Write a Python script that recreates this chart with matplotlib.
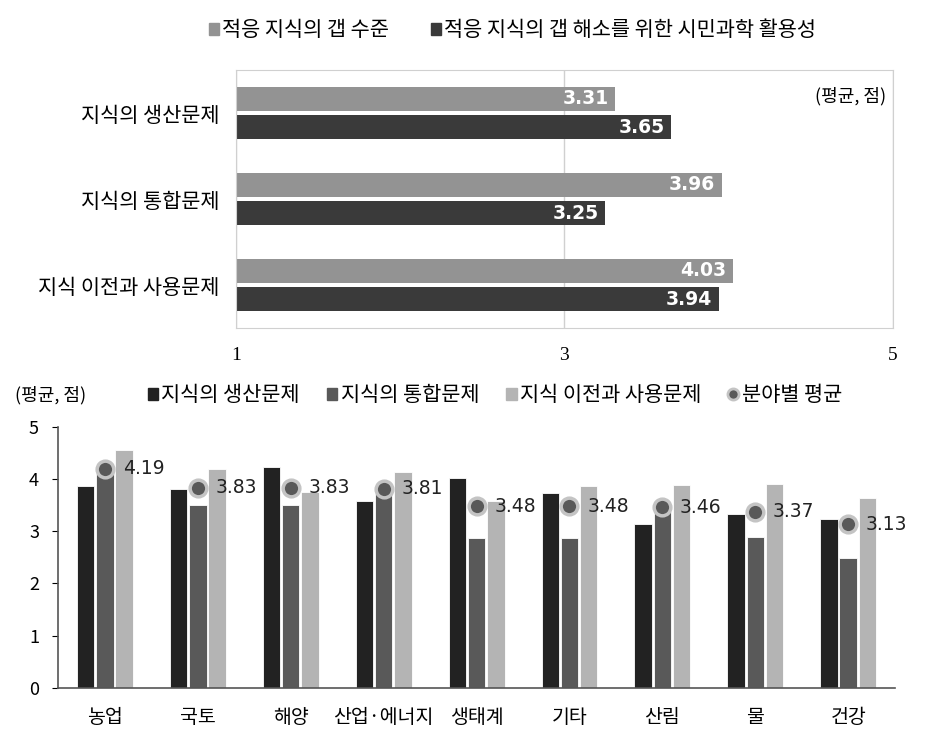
import matplotlib.pyplot as plt
from matplotlib.patches import Patch
from matplotlib.lines import Line2D
import numpy as np

plt.rcParams['font.family'] = ['Noto Sans CJK KR', 'DejaVu Sans']

# 상단: 지식 문제별 평균
문제 = ["지식의 생산문제", "지식의 통합문제", "지식 이전과 사용문제"]
갭_수준 = [3.31, 3.96, 4.03]
시민과학_활용성 = [3.65, 3.25, 3.94]
상단_범례 = ["적응 지식의 갭 수준", "적응 지식의 갭 해소를 위한 시민과학 활용성"]

# 하단: 분야별 평균
분야 = ["농업", "국토", "해양", "산업·에너지", "생태계", "기타", "산림", "물", "건강"]
생산문제 = [3.87, 3.80, 4.23, 3.58, 4.01, 3.72, 3.13, 3.33, 3.24]
통합문제 = [4.14, 3.50, 3.50, 3.72, 2.86, 2.86, 3.37, 2.89, 2.49]
이전사용문제 = [4.56, 4.19, 3.75, 4.13, 3.58, 3.87, 3.88, 3.90, 3.63]
분야별_평균 = [4.19, 3.83, 3.83, 3.81, 3.48, 3.48, 3.46, 3.37, 3.13]
하단_범례 = ["지식의 생산문제", "지식의 통합문제", "지식 이전과 사용문제", "분야별 평균"]

fig = plt.figure(figsize=(9.25, 7.54), dpi=100)

# ---- 상단 가로 막대
ax1 = fig.add_axes([0.255, 0.565, 0.71, 0.342])
y = np.arange(len(문제))
c_light, c_dark = "#939393", "#3a3a3a"
b1 = ax1.barh(y - 0.165, [v - 1 for v in 갭_수준], left=1, height=0.28, color=c_light)
b2 = ax1.barh(y + 0.165, [v - 1 for v in 시민과학_활용성], left=1, height=0.28, color=c_dark)
for bars, vals in [(b1, 갭_수준), (b2, 시민과학_활용성)]:
    for bar, v in zip(bars, vals):
        ax1.text(v - 0.04, bar.get_y() + bar.get_height() / 2, f"{v:.2f}",
                 ha="right", va="center", color="white", fontsize=13.5, fontweight="bold",
                 family=["DejaVu Sans"])
ax1.set_xlim(1, 5)
ax1.set_ylim(2.5, -0.5)
ax1.set_xticks([1, 3, 5])
ax1.set_xticklabels(["1", "3", "5"], family=["Liberation Serif"], fontsize=14)
ax1.set_yticks(y)
ax1.set_yticklabels(문제, fontsize=15)
ax1.tick_params(length=0, pad=12)
ax1.tick_params(axis="x", pad=14)
ax1.xaxis.grid(True, color="#d0d0d0", linewidth=1)
ax1.set_axisbelow(True)
for s in ax1.spines.values():
    s.set_color("#d0d0d0")
ax1.text(0.99, 0.9, "(평균, 점)", transform=ax1.transAxes, ha="right", va="center", fontsize=13)

fig.legend([Patch(color=c_light), Patch(color=c_dark)], 상단_범례,
           loc="center", bbox_to_anchor=(0.554, 0.96), ncol=2, frameon=False,
           fontsize=15, handlelength=0.5, handleheight=0.5, handletextpad=0.15,
           columnspacing=2.0)

# ---- 하단 세로 막대
ax2 = fig.add_axes([0.0632, 0.0875, 0.904, 0.3468])
x = np.arange(len(분야))
w, off = 0.188, 0.207
cols = ["#222222", "#595959", "#b4b4b4"]
for i, vals in enumerate([생산문제, 통합문제, 이전사용문제]):
    ax2.bar(x + (i - 1) * off, vals, width=w, color=cols[i], edgecolor="white", linewidth=0.6)
ax2.plot(x, 분야별_평균, linestyle="none", marker="o", markersize=12,
         markerfacecolor="#595959", markeredgecolor="#c4c4c4", markeredgewidth=2.5, zorder=5)
for xi, v in zip(x, 분야별_평균):
    ax2.text(xi + 0.19, v, f"{v:.2f}", ha="left", va="center", fontsize=13.5,
             family=["DejaVu Sans"], color="#222222")
ax2.set_xlim(-0.5, 8.5)
ax2.set_ylim(0, 5)
ax2.set_xticks(x)
ax2.set_xticklabels(분야, fontsize=14)
ax2.set_yticks(range(6))
ax2.tick_params(axis="x", length=0, pad=14)
ax2.tick_params(axis="y", length=4, labelsize=13, pad=10)
for s in ["top", "right"]:
    ax2.spines[s].set_visible(False)
for s in ["left", "bottom"]:
    ax2.spines[s].set_color("#555555")
    ax2.spines[s].set_linewidth(1.2)

handles = [Patch(color=c) for c in cols] + [
    Line2D([], [], linestyle="none", marker="o", markersize=8,
           markerfacecolor="#595959", markeredgecolor="#c4c4c4", markeredgewidth=2)]
fig.legend(handles, 하단_범례, loc="center", bbox_to_anchor=(0.535, 0.476), ncol=4,
           frameon=False, fontsize=15, handlelength=0.5, handleheight=0.5,
           handletextpad=0.15, columnspacing=1.3)
fig.text(0.016, 0.476, "(평균, 점)", ha="left", va="center", fontsize=13)

fig.savefig("out.png", dpi=100)
